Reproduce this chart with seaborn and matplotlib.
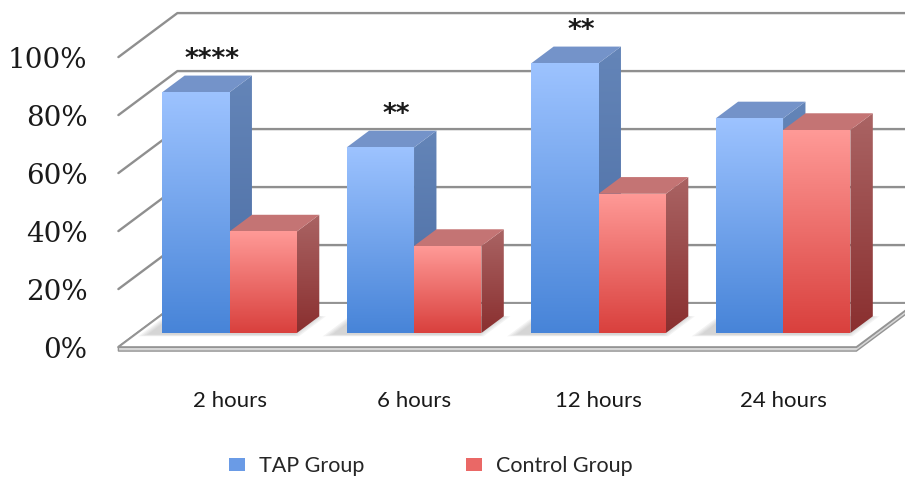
import matplotlib
matplotlib.use("Agg")
import matplotlib.pyplot as plt
import numpy as np
import pandas as pd
import seaborn as sns
from matplotlib.colors import LinearSegmentedColormap
from matplotlib.patches import Patch, Polygon
from matplotlib.transforms import ScaledTranslation

hours = ["2 hours", "6 hours", "12 hours", "24 hours"]
groups = ["TAP Group", "Control Group"]
tap_group = [83, 64, 93, 74]
control_group = [35, 30, 48, 70]
significance = ["****", "**", "**", ""]
y_ticks = [0, 20, 40, 60, 80, 100]

df = pd.DataFrame({
    "hours": hours * 2,
    "value": tap_group + control_group,
    "group": [groups[0]] * len(hours) + [groups[1]] * len(hours),
})

# front top, front bottom, side top, side bottom, top face
FACES = {
    "TAP Group": ("#9dc3ff", "#4784d8", "#6485b8", "#4a6ca3", "#7493c9"),
    "Control Group": ("#ff9a97", "#d9403d", "#aa6464", "#8a2f2f", "#c47474"),
}
LEGEND_COLORS = {"TAP Group": "#6a9be6", "Control Group": "#ea6866"}

DEPTH = (59, 44)          # px shift from front to back of the floor
BAR_FRONT, BAR_BACK = 0.32, 0.70
GRID = "#8f8f8f"

sns.set_style("white")
plt.rcParams["font.family"] = ["Lato", "DejaVu Sans"]

fig = plt.figure(figsize=(9.05, 4.78), dpi=100)
ax = fig.add_axes([100 / 905, 88 / 478, 805 / 905, 390 / 478])

sns.barplot(
    data=df, x="hours", y="value", hue="group", order=hours, hue_order=groups,
    palette=[FACES[g][1] for g in groups], width=0.73, saturation=1,
    legend=False, ax=ax, zorder=3,
)
ax.set_xlim(-0.702, 3.661)
ax.set_ylim(-19.66, 114.83)
ax.set_autoscale_on(False)

(px0, py0), (px1, py1) = ax.transData.transform([(0, 0), (1, 1)])
sx, sy = px1 - px0, py1 - py0


def proj(x, y, t):
    # oblique projection: t = 0 front edge of floor, t = 1 back wall
    return (x + DEPTH[0] * (t - BAR_FRONT) / sx, y + DEPTH[1] * (t - BAR_FRONT) / sy)


def shade(verts, top, bottom, z):
    poly = Polygon(verts, closed=True, facecolor="none", edgecolor="none")
    ax.add_patch(poly)
    xs, ys = zip(*verts)
    cmap = LinearSegmentedColormap.from_list("face", [bottom, top])
    grad = np.linspace(0, 1, 256).reshape(-1, 1)
    im = ax.imshow(grad, extent=[min(xs), max(xs), min(ys), max(ys)], origin="lower",
                   cmap=cmap, aspect="auto", zorder=z, interpolation="bilinear")
    im.set_clip_path(poly)


# walls
left, right = -0.5, len(hours) - 0.5
for v in y_ticks:
    pts = [proj(left, v, 0), proj(left, v, 1), proj(right, v, 1)]
    ax.plot(*zip(*pts), color=GRID, lw=1.7, zorder=1)

# floor slab
thk = 4 / sy
floor = [proj(left, 0, 0), proj(right, 0, 0), proj(right, 0, 1), proj(left, 0, 1)]
ax.add_patch(Polygon(floor, facecolor="white", edgecolor="#949494", lw=1.3, zorder=2))
fl, fr, br = proj(left, 0, 0), proj(right, 0, 0), proj(right, 0, 1)
slab = [fl, fr, br, (br[0], br[1] - thk), (fr[0], fr[1] - thk), (fl[0], fl[1] - thk)]
ax.add_patch(Polygon(slab, facecolor="#d6d6d6", edgecolor="#949494", lw=1.0, zorder=1.9))

# soft shadows on the floor
for tap_bar, ctl_bar in zip(ax.containers[0], ax.containers[1]):
    x0 = tap_bar.get_x()
    x1 = ctl_bar.get_x() + ctl_bar.get_width()
    for k in range(4):
        grow = 0.012 * k
        pts = [proj(x0 - 0.07 - grow, 0, BAR_FRONT - 0.04 - grow),
               proj(x1 + grow, 0, BAR_FRONT - 0.04 - grow),
               proj(x1 + grow, 0, BAR_BACK),
               proj(x0 - 0.07 - grow, 0, BAR_BACK)]
        ax.add_patch(Polygon(pts, facecolor="#808080", edgecolor="none", alpha=0.09, zorder=2.5))

# 3d bars
for i, (level, container) in enumerate(zip(groups, ax.containers)):
    front_top, front_bot, side_top, side_bot, top_col = FACES[level]
    z = 3 + i
    for bar in container:
        x0, w, h = bar.get_x(), bar.get_width(), bar.get_height()
        x1 = x0 + w
        side = [(x1, 0), (x1, h), proj(x1, h, BAR_BACK), proj(x1, 0, BAR_BACK)]
        shade(side, side_top, side_bot, z + 0.1)
        top = [(x0, h), (x1, h), proj(x1, h, BAR_BACK), proj(x0, h, BAR_BACK)]
        ax.add_patch(Polygon(top, facecolor=top_col, edgecolor="none", zorder=z + 0.1))
        bar.set_zorder(z + 0.2)
        bar.set_edgecolor("none")
        shade([(x0, 0), (x1, 0), (x1, h), (x0, h)], front_top, front_bot, z + 0.2)

# significance marks
for bar, mark in zip(ax.containers[0], significance):
    if mark:
        ax.text(bar.get_x() + bar.get_width() / 2 + 16 / sx, bar.get_height() + 32 / sy, mark,
                ha="center", va="center", fontsize=19, family="DejaVu Sans",
                fontweight="bold", color="#1a1a1a", zorder=10)

ax.set_xlabel("")
ax.set_ylabel("")
ax.set_xticks(range(len(hours)), hours)
ax.set_yticks(y_ticks, [f"{v}%" for v in y_ticks])
ax.tick_params(axis="x", length=0, pad=1, labelsize=16, labelcolor="#1a1a1a")
ax.tick_params(axis="y", length=0, pad=9, labelsize=20, labelcolor="#1a1a1a")
shift = ScaledTranslation(0, -DEPTH[1] * BAR_FRONT / 100, fig.dpi_scale_trans)
for lab in ax.get_yticklabels():
    lab.set_fontfamily("DejaVu Serif")
    lab.set_transform(lab.get_transform() + shift)
for spine in ax.spines.values():
    spine.set_visible(False)
ax.grid(False)

handles = [Patch(facecolor=LEGEND_COLORS[g], edgecolor="none") for g in groups]
fig.legend(handles, groups, loc="center", bbox_to_anchor=(0.476, 12 / 478), ncol=2,
           frameon=False, fontsize=15.5, handlelength=0.75, handleheight=0.6,
           handletextpad=0.65, columnspacing=4.7)

fig.savefig("out.png", dpi=100)
